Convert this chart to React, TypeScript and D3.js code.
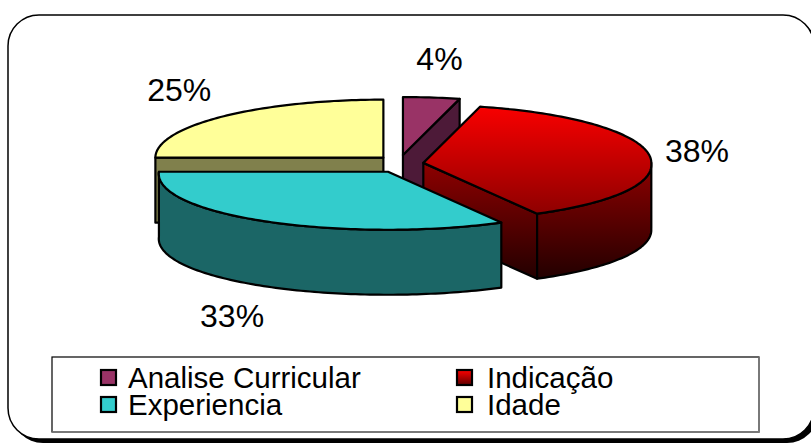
import React from 'react';
import * as d3 from 'd3';

const categories = ['Analise Curricular', 'Indicação', 'Experiencia', 'Idade'];
const values = [4, 38, 33, 25];
const pctLabels = ['4%', '38%', '33%', '25%'];
const topFills = ['#993366', 'url(#redTop)', '#33CCCC', '#FFFF99'];
const sideFills = ['#4D1A38', 'url(#redSide)', '#1B6666', '#80804C'];
const swatchFills = ['#993366', 'url(#redSwatch)', '#33CCCC', '#FFFF99'];

const W = 811;
const H = 443;
const cx = 400;
const cy = 164;
const rx = 228;
const ry = 58;
const depth = 65;
const ex = 23.5;
const ey = 9;
const persp = 0.0006;

const font = "'Liberation Sans', Arial, sans-serif";

type P = [number, number];

// point on the top (or lowered) rim, with a little widening toward the front
const pt = (a: number, c: P, dy = 0): P => {
  const yg = c[1] - ry * Math.cos(a);
  const x = c[0] + rx * Math.sin(a);
  const k = 1 + persp * Math.max(0, yg - cy);
  return [cx + (x - cx) * k, yg + dy];
};

const arcPts = (a0: number, a1: number, c: P, dy = 0): P[] => {
  const n = Math.max(2, Math.ceil(Math.abs(a1 - a0) / 0.02));
  return d3.range(n + 1).map(i => pt(a0 + ((a1 - a0) * i) / n, c, dy));
};

const line = d3.line<P>();

const App = () => {
  const pie = d3.pie<number>().sort(null).value(d => d);
  const arcs = pie(values).map((a, i) => {
    const mid = (a.startAngle + a.endAngle) / 2;
    const c: P = [cx + ex * Math.sin(mid), cy - ey * Math.cos(mid)];
    return { ...a, i, mid, c };
  });
  // back slices first
  const order = [...arcs].sort((a, b) => -Math.cos(a.mid) - -Math.cos(b.mid));

  const slices = order.map(s => {
    const { startAngle: a0, endAngle: a1, c, i } = s;
    const parts: JSX.Element[] = [];
    const cb: P = [c[0], c[1] + depth];
    if (Math.sin(a0) < -0.01) {
      parts.push(
        <path key="w0" d={line([c, pt(a0, c), pt(a0, c, depth), cb])! + 'Z'} fill={sideFills[i]} />
      );
    }
    if (Math.sin(a1) > 0.01) {
      parts.push(
        <path key="w1" d={line([c, pt(a1, c), pt(a1, c, depth), cb])! + 'Z'} fill={sideFills[i]} />
      );
    }
    const s0 = Math.max(a0, Math.PI / 2);
    const s1 = Math.min(a1, (3 * Math.PI) / 2);
    if (s1 > s0) {
      const pts = [...arcPts(s0, s1, c), ...arcPts(s1, s0, c, depth)];
      parts.push(<path key="ow" d={line(pts)! + 'Z'} fill={sideFills[i]} />);
    }
    parts.push(
      <path key="top" d={line([c, ...arcPts(a0, a1, c)])! + 'Z'} fill={topFills[i]} />
    );
    return (
      <g key={categories[i]} stroke="#000" strokeWidth={2.2} strokeLinejoin="round">
        {parts}
      </g>
    );
  });

  const Rx = 267;
  const Ry = 106;
  const labels = arcs.map(s => {
    const sx = Math.sin(s.mid);
    const cs = -Math.cos(s.mid);
    const x = cx + Rx * sx;
    const y = cy + Ry * cs + (cs > 0 ? 60 : 0);
    const anchor = Math.abs(sx) < 0.3 ? 'middle' : sx > 0 ? 'start' : 'end';
    return (
      <text key={s.i} x={x + (anchor === 'middle' ? 6 : 0)} y={y} dy="0.36em" textAnchor={anchor} fontSize={32} fontFamily={font}>
        {pctLabels[s.i]}
      </text>
    );
  });

  const colX = [101, 457];
  const textX = [128, 487];
  const rowY = [370, 397];
  const legend = categories.map((name, i) => {
    const col = i % 2;
    const row = Math.floor(i / 2);
    return (
      <g key={name}>
        <rect x={colX[col]} y={rowY[row]} width={15} height={15} fill={swatchFills[i]} stroke="#000" strokeWidth={2.2} />
        <text x={textX[col]} y={rowY[row] + 18} fontSize={29.5} fontFamily={font}>
          {name}
        </text>
      </g>
    );
  });

  return (
    <svg width={W} height={H} style={{ position: 'absolute', left: 0, top: 0 }}>
      <defs>
        <linearGradient id="redTop" gradientUnits="userSpaceOnUse" x1={0} y1={100} x2={0} y2={228}>
          <stop offset="0" stopColor="#FF0000" />
          <stop offset="1" stopColor="#800000" />
        </linearGradient>
        <linearGradient id="redSide" gradientUnits="userSpaceOnUse" x1={0} y1={165} x2={0} y2={288}>
          <stop offset="0" stopColor="#8C0000" />
          <stop offset="1" stopColor="#1A0000" />
        </linearGradient>
        <linearGradient id="redSwatch" x1={0} y1={0} x2={0} y2={1}>
          <stop offset="0" stopColor="#FF0000" />
          <stop offset="1" stopColor="#600000" />
        </linearGradient>
      </defs>
      <rect x={0} y={0} width={W} height={H} fill="#fff" />
      <rect x={12} y={19} width={806} height={424} rx={31} fill="#000" />
      <rect x={8} y={15} width={806} height={424} rx={31} fill="#fff" stroke="#000" strokeWidth={1.5} />
      {slices}
      {labels}
      <rect x={52} y={357} width={707} height={75} fill="#fff" stroke="#000" strokeWidth={1.2} />
      <path d="M759,357V432H52" fill="none" stroke="#808080" strokeWidth={1.5} />
      {legend}
    </svg>
  );
};

export default App;
